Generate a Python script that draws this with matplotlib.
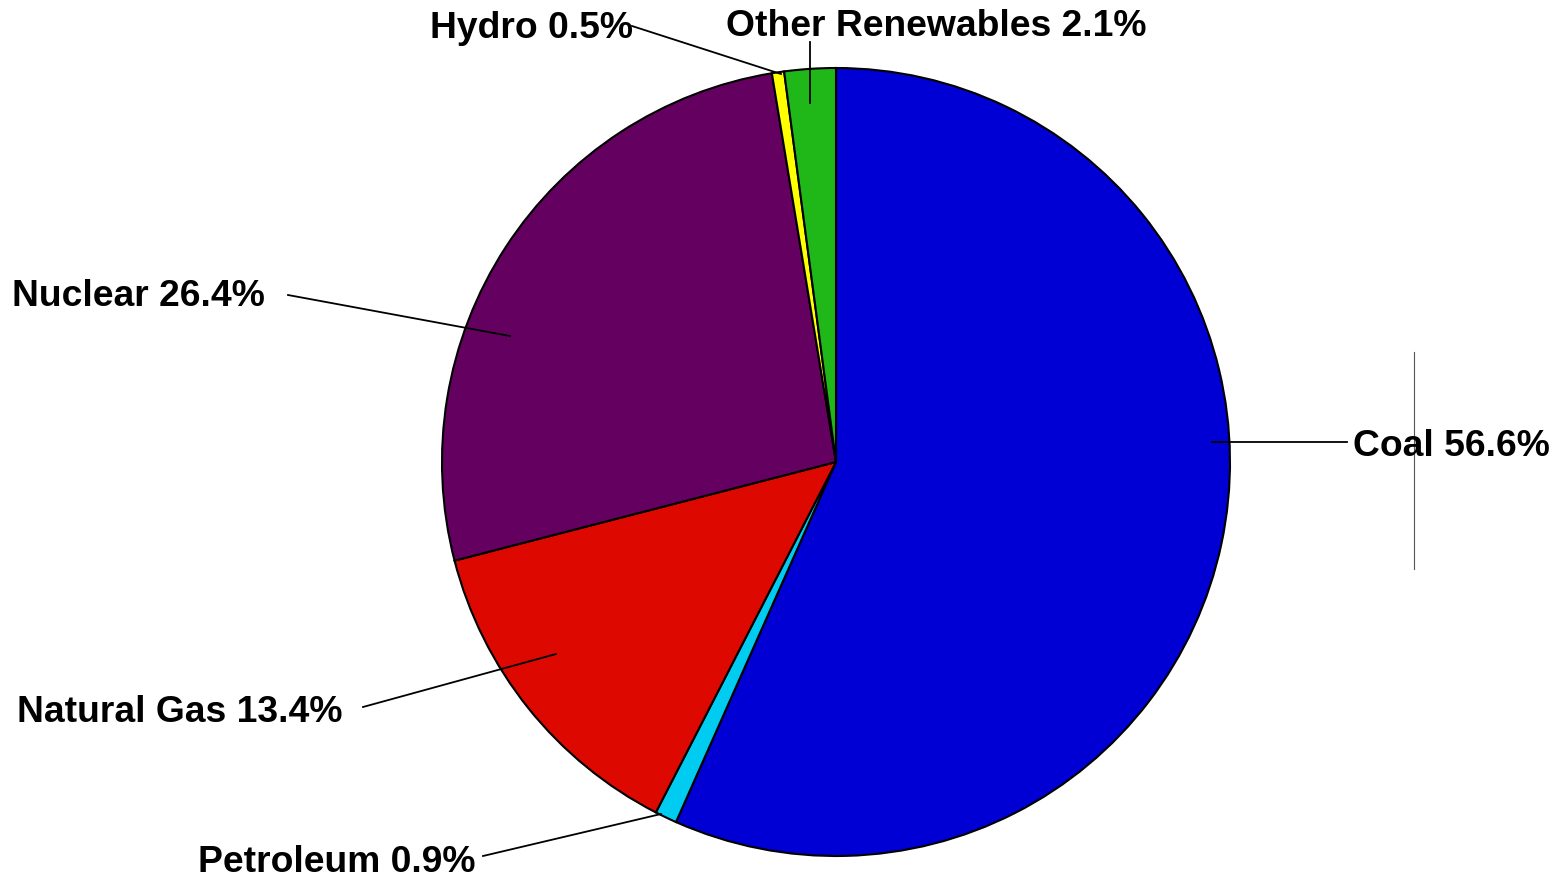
import matplotlib.pyplot as plt

# Share of electricity generation by source (percent)
sources = ["Coal", "Petroleum", "Natural Gas", "Nuclear", "Hydro", "Other Renewables"]
shares = [56.6, 0.9, 13.4, 26.4, 0.5, 2.1]
colors = ["#0000D4", "#00CCF2", "#DD0800", "#640060", "#FFFF00", "#20B818"]

# label layout in pixel coords (x, y from top): text anchor, ha, leader start, leader end
label_layout = {
    "Coal": ((1353, 446), "left", (1212, 443), (1347, 443)),
    "Petroleum": ((476, 863), "right", (661, 815), (483, 857)),
    "Natural Gas": ((343, 713), "right", (556, 655), (363, 708)),
    "Nuclear": ((265, 296), "right", (510, 337), (288, 296)),
    "Hydro": ((633, 28), "right", (781, 75), (632, 27)),
    "Other Renewables": ((726, 26), "left", (810, 104), (810, 43)),
}

W, H = 1558, 879
fig = plt.figure(figsize=(W / 100, H / 100), dpi=100)
ax = fig.add_axes([0, 0, 1, 1])

ax.pie(shares, colors=colors, startangle=90, counterclock=False,
       center=(836, H - 463), radius=394,
       wedgeprops=dict(edgecolor="black", linewidth=1.5))

# pie() resets limits, so put the pixel frame back afterwards
ax.set_xlim(0, W)
ax.set_ylim(0, H)
ax.set_aspect("equal")
ax.axis("off")

for name, val in zip(sources, shares):
    (tx, ty), ha, (x0, y0), (x1, y1) = label_layout[name]
    ax.plot([x0, x1], [H - y0, H - y1], color="black", lw=1.3)
    ax.text(tx, H - ty, f"{name} {val}%", ha=ha, va="center",
            fontsize=26.8, fontweight="bold", family="Liberation Sans")

# stray vertical rule next to the coal label
ax.plot([1414, 1414], [H - 353, H - 570], color="#555555", lw=0.8)

fig.savefig("out.png", dpi=100)
